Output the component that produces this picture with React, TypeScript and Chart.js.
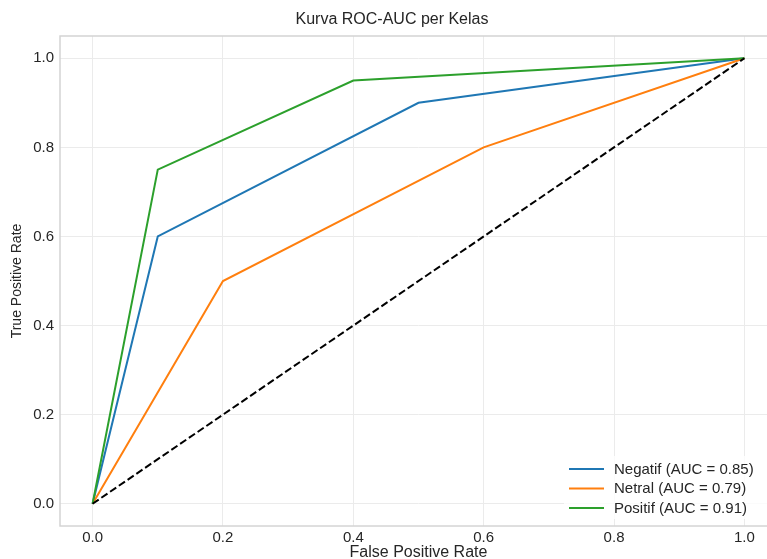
import React, { useEffect, useRef } from "react";
import { Chart, registerables } from "chart.js";

Chart.register(...registerables);

const fprNegatif = [0, 0.1, 0.5, 1];
const tprNegatif = [0, 0.6, 0.9, 1];
const fprNetral = [0, 0.2, 0.6, 1];
const tprNetral = [0, 0.5, 0.8, 1];
const fprPositif = [0, 0.1, 0.4, 1];
const tprPositif = [0, 0.75, 0.95, 1];
const diagX = [0, 1];
const diagY = [0, 1];
const classLabels = ["Negatif (AUC = 0.85)", "Netral (AUC = 0.79)", "Positif (AUC = 0.91)"];
const classColors = ["#1f77b4", "#ff7f0e", "#2ca02c"];
const tickValues = [0, 0.2, 0.4, 0.6, 0.8, 1.0];
const titleText = "Kurva ROC-AUC per Kelas";
const xTitle = "False Positive Rate";
const yTitle = "True Positive Rate";

const FONT = '"Liberation Sans", Arial, Helvetica, sans-serif';
const TEXT = "#262626";

const toPts = (xs: number[], ys: number[]) => xs.map((x, i) => ({ x, y: ys[i] }));

const decorPlugin = {
  id: "decor",
  beforeDraw(chart: any) {
    const { ctx, width, height } = chart;
    ctx.save();
    ctx.fillStyle = "#ffffff";
    ctx.fillRect(0, 0, width, height);
    ctx.restore();
  },
  beforeDatasetsDraw(chart: any) {
    const { ctx, chartArea: a } = chart;
    ctx.save();
    ctx.strokeStyle = "#d4d4d4";
    ctx.lineWidth = 1.5;
    ctx.strokeRect(a.left, a.top, a.right - a.left, a.bottom - a.top);
    ctx.restore();
  },
  afterDraw(chart: any) {
    const { ctx, chartArea: a } = chart;
    ctx.save();
    ctx.fillStyle = TEXT;
    ctx.font = `16px ${FONT}`;
    ctx.textAlign = "center";
    ctx.textBaseline = "middle";
    ctx.fillText(titleText, 392, 20);

    // x-axis title
    ctx.font = `16px ${FONT}`;
    ctx.fillText(xTitle, (a.left + a.right) / 2, 553);

    // legend (lower right, inside axes)
    ctx.globalAlpha = 0.8;
    ctx.fillStyle = "#ffffff";
    ctx.fillRect(564, 456, 230, 63);
    ctx.globalAlpha = 1;
    const rowY = [469, 488.5, 508];
    classLabels.forEach((label, i) => {
      ctx.strokeStyle = classColors[i];
      ctx.lineWidth = 2;
      ctx.beginPath();
      ctx.moveTo(569, rowY[i]);
      ctx.lineTo(604, rowY[i]);
      ctx.stroke();
      ctx.fillStyle = TEXT;
      ctx.font = `15px ${FONT}`;
      ctx.textAlign = "left";
      ctx.textBaseline = "middle";
      ctx.fillText(label, 614, rowY[i] + 0.5);
    });
    ctx.restore();
  },
};

function axis(titleTextStr: string, isX: boolean) {
  return {
    type: "linear" as const,
    min: -0.05,
    max: 1.05,
    afterBuildTicks: (s: any) => {
      s.ticks = tickValues.map((v) => ({ value: v }));
    },
    afterFit: (s: any) => {
      if (isX) s.height = 33;
      else s.width = 60;
    },
    ticks: {
      callback: (v: any) => Number(v).toFixed(1),
      font: { size: 15, family: FONT },
      color: TEXT,
      padding: isX ? 3 : 6,
      autoSkip: false,
      maxRotation: 0,
    },
    grid: { color: "#ebebeb", lineWidth: 1, drawTicks: false },
    border: { display: false },
    title: {
      display: !isX,
      text: titleTextStr,
      font: { size: 14, family: FONT },
      color: TEXT,
      padding: { top: 9, bottom: 0 },
    },
  };
}

export default function App() {
  const ref = useRef<HTMLCanvasElement | null>(null);
  useEffect(() => {
    if (!ref.current) return;
    const chart = new Chart(ref.current, {
      type: "line",
      data: {
        datasets: [
          {
            label: "diag",
            data: toPts(diagX, diagY),
            borderColor: "#000000",
            borderWidth: 2,
            borderDash: [7.4, 3.2],
            pointRadius: 0,
            order: 0,
          },
          {
            label: classLabels[2],
            data: toPts(fprPositif, tprPositif),
            borderColor: classColors[2],
            borderWidth: 2,
            pointRadius: 0,
            order: 1,
          },
          {
            label: classLabels[1],
            data: toPts(fprNetral, tprNetral),
            borderColor: classColors[1],
            borderWidth: 2,
            pointRadius: 0,
            order: 2,
          },
          {
            label: classLabels[0],
            data: toPts(fprNegatif, tprNegatif),
            borderColor: classColors[0],
            borderWidth: 2,
            pointRadius: 0,
            order: 3,
          },
        ],
      },
      options: {
        animation: false,
        responsive: false,
        devicePixelRatio: 1,
        layout: { padding: { left: 0, right: 13, top: 36, bottom: 0 } },
        plugins: {
          legend: { display: false },
          title: { display: false },
          tooltip: { enabled: false },
        },
        scales: {
          x: axis(xTitle, true),
          y: axis(yTitle, false),
        },
      },
      plugins: [decorPlugin],
    });
    return () => chart.destroy();
  }, []);
  return (
    <div
      style={{
        position: "fixed",
        left: 0,
        top: 0,
        width: 767,
        height: 559,
        overflow: "hidden",
        background: "#ffffff",
      }}
    >
      <canvas ref={ref} width={790} height={559} style={{ display: "block", width: 790, height: 559 }} />
    </div>
  );
}
